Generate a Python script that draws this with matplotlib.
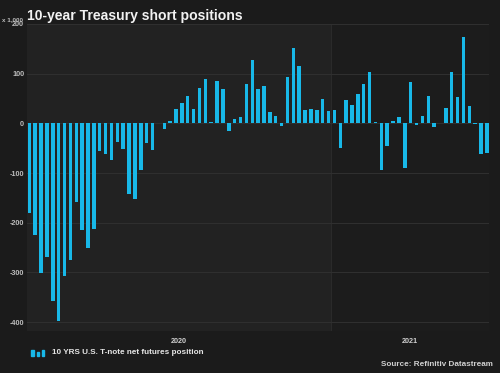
import matplotlib
matplotlib.use("Agg")
import matplotlib.pyplot as plt
from matplotlib.patches import Rectangle
import pandas as pd

# Weekly net futures position, thousands of contracts
weeks = pd.date_range("2020-01-07", periods=79, freq="7D")
net_position = [
    -180, -225, -302, -270, -358, -398, -307, -275, -158, -215,
    -251, -213, -55, -62, -73, -37, -51, -143, -152, -93,
    -39, -53, 1, -12, 5, 29, 41, 56, 28, 72,
    90, 3, 85, 70, -15, 8, 13, 80, 128, 69,
    75, 23, 15, -5, 94, 151, 115, 26, 29, 27,
    50, 25, 27, -50, 46, 37, 59, 79, 103, 2,
    -94, -46, 4, 13, -90, 84, -3, 15, 55, -7,
    0, 31, 103, 53, 173, 34, -1, -61, -60,
]
y_ticks = [200, 100, 0, -100, -200, -300, -400]
year_labels = ["2020", "2021"]

BG = "#1b1b1b"
BAND_2020 = "#222222"
BAND_2021 = "#1c1c1c"
BAR = "#18b8e8"
GRID = "#303030"

plt.rcParams["font.family"] = ["Liberation Sans", "DejaVu Sans"]

fig = plt.figure(figsize=(5.0, 3.73), dpi=100, facecolor=BG)
ax = fig.add_axes([0.054, 0.1126, 0.924, 0.8231])
ax.set_facecolor(BAND_2021)

step = pd.Timedelta(days=7)
x0 = weeks[0] - 0.4 * step
x1 = weeks[-1] + 0.35 * step
y2021 = pd.Timestamp("2021-01-01")
ax.axvspan(x0, y2021, color=BAND_2020, zorder=0, lw=0)
ax.axvline(y2021, color="#2a2a2a", lw=0.8, zorder=0.5)

for t in y_ticks:
    ax.axhline(t, color=GRID, lw=0.7, zorder=1)

ax.bar(weeks, net_position, width=4.1, color=BAR, zorder=2, align="center")

ax.set_xlim(x0, x1)
ax.set_ylim(-418, 200)
ax.set_yticks(y_ticks)
ax.set_yticklabels([str(t) for t in y_ticks], color="#bdbdbd", fontsize=5.2,
                   fontweight="bold")
ax.tick_params(axis="y", length=0, pad=2)
ax.set_xticks([])
for s in ax.spines.values():
    s.set_visible(False)

# year labels centred in their bands
centres = [x0 + (y2021 - x0) / 2, y2021 + (x1 - y2021) / 2]
for c, lab in zip(centres, year_labels):
    ax.text(c, -0.022, lab, transform=ax.get_xaxis_transform(), ha="center",
            va="top", fontsize=5.2, color="#cfcfcf", fontweight="bold")

fig.text(0.054, 0.977, "10-year Treasury short positions", fontsize=10.1,
         fontweight="bold", color="#f2f2f2", ha="left", va="top")
fig.text(0.004, 0.948, "x 1,000", fontsize=4.5, color="#bdbdbd",
         ha="left", va="center", fontweight="bold")

# legend
ly = 1 - 353 / 373
for (xp, h) in [(31, 6.5), (36.5, 4.0), (41.5, 6.5)]:
    fig.patches.append(Rectangle((xp / 500, ly - 3.2 / 373), 2.6 / 500, h / 373,
                                 transform=fig.transFigure, color=BAR))
fig.text(52 / 500, ly, "10 YRS U.S. T-note net futures position", fontsize=5.9,
         fontweight="bold", color="#e6e6e6", ha="left", va="center")
fig.text(493 / 500, 1 - 365 / 373, "Source: Refinitiv Datastream", fontsize=5.9,
         fontweight="bold", color="#d0d0d0", ha="right", va="center")

fig.savefig("out.png", dpi=100, facecolor=BG)
